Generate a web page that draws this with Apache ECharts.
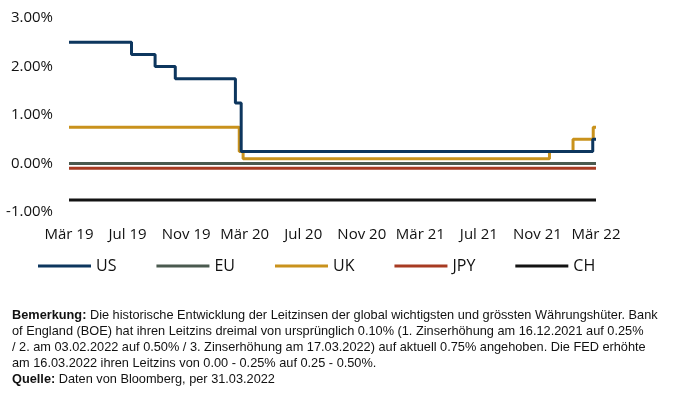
<!DOCTYPE html>
<html>
<head>
<meta charset="utf-8">
<script src="https://cdn.jsdelivr.net/npm/echarts@6/dist/echarts.min.js"></script>
<style>
html,body{margin:0;padding:0;background:#fff;}
#c{width:684px;height:393px;}
</style>
</head>
<body>
<div id="c"></div>
<script>
// ---- Data ----
const xTickLabels = ['Mär 19','Jul 19','Nov 19','Mär 20','Jul 20','Nov 20','Mär 21','Jul 21','Nov 21','Mär 22'];
const seriesNames = ['US','EU','UK','JPY','CH'];
// [date, rate in %] : each rate holds until the next date
const usRates  = [['2019-03-23',2.50],['2019-07-31',2.25],['2019-09-18',2.00],['2019-10-30',1.75],['2020-03-03',1.25],['2020-03-15',0.25],['2022-03-16',0.50],['2022-03-31',0.50]];
const euRates  = [['2019-03-23',0.00],['2022-03-31',0.00]];
const ukRates  = [['2019-03-23',0.75],['2020-03-11',0.25],['2020-03-19',0.10],['2021-12-16',0.25],['2022-02-03',0.50],['2022-03-17',0.75],['2022-03-31',0.75]];
const jpyRates = [['2019-03-23',-0.10],['2022-03-31',-0.10]];
const chRates  = [['2019-03-23',-0.75],['2022-03-31',-0.75]];
const yTicks = [-1, 0, 1, 2, 3];
const noteLines = [
  ['Bemerkung:', ' Die historische Entwicklung der Leitzinsen der global wichtigsten und grössten Währungshüter. Bank'],
  ['', 'of England (BOE) hat ihren Leitzins dreimal von ursprünglich 0.10% (1. Zinserhöhung am 16.12.2021 auf 0.25%'],
  ['', '/ 2. am 03.02.2022 auf 0.50% / 3. Zinserhöhung am 17.03.2022) auf aktuell 0.75% angehoben. Die FED erhöhte'],
  ['', 'am 16.03.2022 ihren Leitzins von 0.00 - 0.25% auf 0.25 - 0.50%.'],
  ['Quelle:', ' Daten von Bloomberg, per 31.03.2022']
];

// ---- Helpers ----
const origin = Date.UTC(2019, 2, 23);
const monthLen = 365.25 / 12 * 86400000;
function toMonths(s) {
  const p = s.split('-').map(Number);
  return Math.min(36, (Date.UTC(p[0], p[1]-1, p[2]) - origin) / monthLen);
}
function conv(arr) { return arr.map(d => [toMonths(d[0]), d[1]]); }

const colors = ['#0d365e', '#4a5a4f', '#c9921c', '#a73b22', '#131313'];
const allData = [usRates, euRates, ukRates, jpyRates, chRates];
const FONT = 'Open Sans';

const noteText = noteLines.map(l => (l[0] ? '{b|' + l[0] + '}' : '') + '{n|' + l[1] + '}').join('\n');

const chart = echarts.init(document.getElementById('c'));
chart.setOption({
  animation: false,
  backgroundColor: '#fff',
  color: colors,
  grid: { left: 69, right: 88, top: 18, bottom: 181, containLabel: false },
  title: {
    left: 7, top: 303,
    text: noteText,
    textStyle: {
      rich: {
        b: { fontFamily: 'Liberation Sans', fontSize: 12.75, fontWeight: 'bold', color: '#111', lineHeight: 15.8 },
        n: { fontFamily: 'Liberation Sans', fontSize: 12.75, fontWeight: 'normal', color: '#111', lineHeight: 15.8 }
      }
    }
  },
  legend: {
    left: 33, top: 253,
    icon: 'rect',
    itemWidth: 53, itemHeight: 3, itemGap: 40,
    data: seriesNames,
    textStyle: { fontFamily: FONT, fontSize: 16, color: '#111' }
  },
  xAxis: {
    type: 'value', min: 0, max: 36, interval: 4,
    axisLine: { show: false }, axisTick: { show: false }, splitLine: { show: false },
    axisLabel: {
      margin: 15, fontFamily: FONT, fontSize: 15, color: '#111',
      formatter: v => xTickLabels[Math.round(v / 4)] || ''
    }
  },
  yAxis: {
    type: 'value', min: yTicks[0], max: yTicks[yTicks.length-1], interval: 1,
    axisLine: { show: false }, axisTick: { show: false }, splitLine: { show: false },
    axisLabel: {
      margin: 16, fontFamily: FONT, fontSize: 15, color: '#111',
      formatter: v => v.toFixed(2) + '%'
    }
  },
  series: seriesNames.map((n, i) => ({
    name: n, type: 'line', step: 'end', symbol: 'none',
    data: conv(allData[i]),
    lineStyle: { width: 3, color: colors[i] },
    itemStyle: { color: colors[i] },
    z: i === 0 ? 3 : 2
  }))
});
</script>
</body>
</html>
